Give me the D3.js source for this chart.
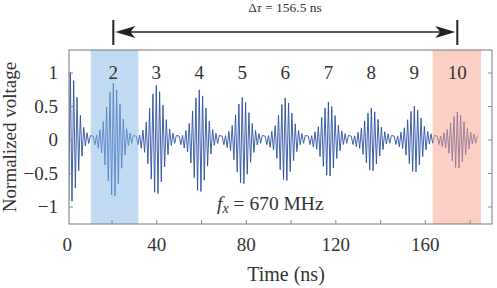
<!DOCTYPE html>
<html>
<head>
<meta charset="utf-8">
<script src="https://cdn.jsdelivr.net/npm/d3@7"></script>
</head>
<body style="margin:0; background:#fff">
<svg id="chart"></svg>
<script>
// packet centres (ns) and peak heights
const centers = [1.6, 20.8, 40.0, 59.2, 78.4, 97.6, 116.9, 136.1, 155.3, 174.5];
const peakPos = [1.00, 0.84, 0.81, 0.74, 0.63, 0.62, 0.56, 0.47, 0.50, 0.41];
const peakNeg = [0.95, 0.87, 0.83, 0.80, 0.68, 0.63, 0.56, 0.48, 0.50, 0.44];
// shape of one packet, one value per half period (j = -12..12), and the small ripple between packets
const envelope = [0, 0.01, 0.03, 0.06, 0.1, 0.17, 0.27, 0.4, 0.55, 0.7, 0.84, 0.95, 1.0,
                  0.97, 0.88, 0.76, 0.62, 0.47, 0.33, 0.21, 0.12, 0.06, 0.03, 0.01, 0];
const ripple = [0.05, 0.07, 0.04, 0.08, 0.06, 0.05, 0.04, 0.03, 0.02, 0.01, 0, 0, 0,
                0, 0, 0, 0.01, 0.02, 0.03, 0.05, 0.06, 0.04, 0.07, 0.05, 0.06];
const carrierMHz = 670;
const packetLabels = ["2", "3", "4", "5", "6", "7", "8", "9", "10"];
const xTickLabels = [0, 40, 80, 120, 160];
const xTickMarks = [20, 40, 60, 80, 100, 120, 140, 160, 180];
const yTicks = [-1, -0.5, 0, 0.5, 1];
const shaded = [
  { from: 10.7, to: 32.0, color: "#84b9e5" },
  { from: 163.5, to: 185.1, color: "#fba18b" }
];
const deltaTau = 156.5;

const serif = '"Liberation Serif"';
const width = 497, height = 288;
const svg = d3.select("#chart").attr("width", width).attr("height", height);

const x = d3.scaleLinear().domain([1, 190]).range([69, 492]);
const y = d3.scaleLinear().domain([-1.261, 1.336]).range([224, 50]);

// build the trace: one point per half period of the carrier
const half = 1000 / carrierMHz / 2;
const trace = [];
centers.forEach((c, k) => {
  envelope.forEach((e, i) => {
    const j = i - 12;
    const s = j % 2 === 0 ? 1 : -1;
    const amp = s > 0 ? peakPos[k] : peakNeg[k];
    trace.push({ t: c + j * half, v: s * (amp * e + ripple[i]) });
  });
});

svg.append("clipPath").attr("id", "clip")
  .append("rect").attr("x", 69).attr("y", 50).attr("width", 423).attr("height", 174);

const line = d3.line().x(d => x(d.t)).y(d => y(d.v));
svg.append("path")
  .datum(trace)
  .attr("clip-path", "url(#clip)")
  .attr("fill", "none")
  .attr("stroke", "#2c4fa3")
  .attr("stroke-width", 0.9)
  .attr("d", line);

// shaded windows drawn over the trace
svg.selectAll(".band")
  .data(shaded)
  .join("rect")
  .attr("x", d => x(d.from))
  .attr("width", d => x(d.to) - x(d.from))
  .attr("y", 50)
  .attr("height", 174)
  .attr("fill", d => d.color)
  .attr("opacity", 0.5);

// frame
svg.append("rect")
  .attr("x", 69).attr("y", 50).attr("width", 423).attr("height", 174)
  .attr("fill", "none").attr("stroke", "#777").attr("stroke-width", 1);

// x axis
svg.append("g")
  .attr("transform", "translate(0,224)")
  .call(d3.axisBottom(x).tickValues(xTickMarks).tickSizeInner(-4).tickSizeOuter(0).tickFormat(""))
  .call(g => g.select(".domain").remove())
  .call(g => g.selectAll("line").attr("stroke", "#888"));

svg.append("g")
  .attr("transform", "translate(0,224)")
  .call(d3.axisBottom(x).tickValues(xTickLabels).tickSize(0).tickPadding(14))
  .call(g => g.select(".domain").remove())
  .call(g => g.attr("font-family", null).attr("font-size", null))
  .call(g => g.selectAll("text").attr("font-size", 19).attr("fill", "#333").style("font-family", serif));

const fmt = d => (d < 0 ? "\u2212" : "") + Math.abs(d);

svg.append("g")
  .attr("transform", "translate(69,0)")
  .call(d3.axisLeft(y).tickValues(yTicks).tickSizeInner(-4).tickSizeOuter(0).tickPadding(11).tickFormat(fmt))
  .call(g => g.select(".domain").remove())
  .call(g => g.attr("font-family", null).attr("font-size", null))
  .call(g => g.selectAll("line").attr("stroke", "#888"))
  .call(g => g.selectAll("text").attr("font-size", 19).attr("fill", "#333").style("font-family", serif));

svg.append("g")
  .attr("transform", "translate(492,0)")
  .call(d3.axisRight(y).tickValues(yTicks).tickSizeInner(-4).tickSizeOuter(0).tickFormat(""))
  .call(g => g.select(".domain").remove())
  .call(g => g.selectAll("line").attr("stroke", "#888"));

// axis titles
svg.append("text")
  .attr("x", 286).attr("y", 281)
  .attr("text-anchor", "middle")
  .attr("font-size", 20)
  .attr("fill", "#333")
  .style("font-family", serif)
  .text("Time (ns)");

svg.append("text")
  .attr("transform", "translate(16,137) rotate(-90)")
  .attr("text-anchor", "middle")
  .attr("font-size", 19)
  .attr("fill", "#333")
  .style("font-family", serif)
  .text("Normalized voltage");

// packet numbers
svg.selectAll(".plabel")
  .data(packetLabels)
  .join("text")
  .attr("x", (d, i) => x(centers[i + 1]))
  .attr("y", y(1) + 6)
  .attr("text-anchor", "middle")
  .attr("font-size", 19)
  .attr("fill", "#333")
  .style("font-family", serif)
  .text(d => d);

// frequency note
const fx = svg.append("text")
  .attr("x", 217).attr("y", 210)
  .attr("font-size", 19.5)
  .attr("fill", "#333")
  .style("font-family", serif);
fx.append("tspan").attr("font-style", "italic").text("f");
fx.append("tspan").attr("font-style", "italic").attr("font-size", 14).attr("dy", 3).text("x");
fx.append("tspan").attr("dy", -3).text(" = " + carrierMHz + " MHz");

// delta tau arrow between packets 2 and 10
const ax0 = x(centers[1]), ax1 = x(centers[9]), ay = 32;
svg.append("line")
  .attr("x1", ax0 + 10).attr("x2", ax1 - 10).attr("y1", ay).attr("y2", ay)
  .attr("stroke", "#222").attr("stroke-width", 1.4);
[ax0, ax1].forEach(px => {
  svg.append("line")
    .attr("x1", px).attr("x2", px).attr("y1", 20).attr("y2", 45)
    .attr("stroke", "#222").attr("stroke-width", 2);
});
const head = (tip, dir) => {
  const p = d3.path();
  p.moveTo(tip, ay);
  p.lineTo(tip + dir * 20, ay - 6);
  p.lineTo(tip + dir * 15, ay);
  p.lineTo(tip + dir * 20, ay + 6);
  p.closePath();
  return p.toString();
};
svg.append("path").attr("d", head(ax0 + 2, 1)).attr("fill", "#222");
svg.append("path").attr("d", head(ax1 - 2, -1)).attr("fill", "#222");

const dt = svg.append("text")
  .attr("x", 285).attr("y", 12)
  .attr("text-anchor", "middle")
  .attr("font-size", 13.5)
  .attr("fill", "#333")
  .style("font-family", serif);
dt.append("tspan").text("\u0394");
dt.append("tspan").attr("font-style", "italic").text("\u03c4");
dt.append("tspan").text(" = " + deltaTau + " ns");
</script>
</body>
</html>
